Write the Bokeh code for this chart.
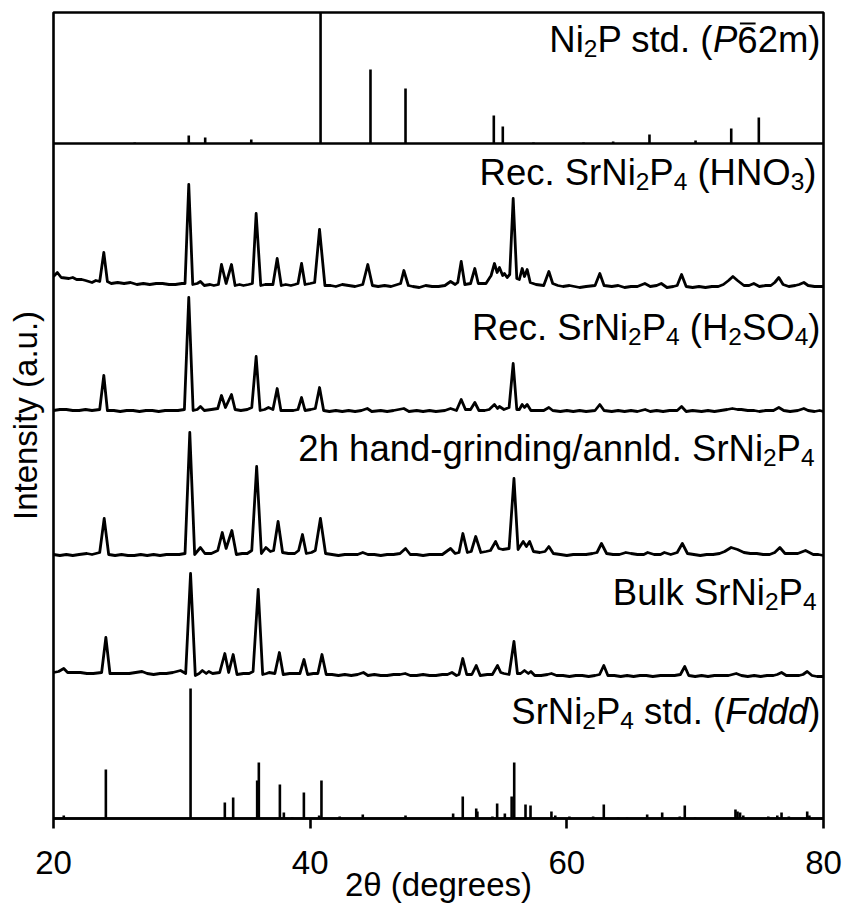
from bokeh.plotting import figure
from bokeh.models import Range1d, FixedTicker, Span, ColumnDataSource
from bokeh.embed import file_html
from bokeh.resources import INLINE
from bokeh.core.properties import value

FONT = "Liberation Sans"

# ---------------------------------------------------------------- data
# Reference stick patterns: 2theta (deg) and relative intensity (a.u.)
ni2p_pos = [26.33, 30.54, 31.82, 35.41, 40.81, 44.70, 47.43, 54.31, 55.01,
            57.40, 61.30, 63.61, 66.44, 70.03, 72.81, 74.96]
ni2p_int = [1, 8, 6, 4, 131, 74, 55, 28, 17, 1, 1, 2, 9, 3, 15, 26]

std_pos = [20.8, 24.08, 30.68, 33.35, 34.0, 35.87, 36.0, 37.64, 37.95, 38.6,
           39.51, 40.7, 40.88, 42.3, 44.1, 47.43, 51.14, 51.89, 52.94, 53.03,
           54.2, 54.57, 55.17, 55.7, 55.9, 56.78, 57.17, 58.8, 59.1, 60.2,
           62.05, 62.88, 64.0, 64.7, 66.26, 67.43, 68.8, 69.19, 70.0, 73.14,
           73.3, 73.5, 73.75, 75.7, 76.4, 76.73, 77.3, 78.73, 78.9]
std_int = [3, 49, 130, 16, 21, 38, 56, 34, 6, 1,
           26, 3, 38, 2, 4, 3, 5, 22, 10, 7,
           2, 15, 5, 22, 56, 14, 13, 7, 3, 2,
           2, 14, 1, 1, 4, 6, 2, 13, 1, 9,
           7, 6, 3, 2, 3, 6, 2, 7, 3]

# Measured patterns: 2theta (deg) and intensity (a.u.)
hno3_tt = [20.0, 20.3, 20.6, 21.2, 21.5, 21.8, 22.2, 22.5, 23.0, 23.3, 23.6, 23.92, 24.2, 24.5,
           25.0, 25.5, 26.0, 26.5, 27.0, 27.5, 28.0, 28.5, 29.0, 29.5, 30.0, 30.25, 30.54, 30.85,
           31.2, 31.45, 31.75, 32.2, 32.5, 32.85, 33.09, 33.45, 33.87, 34.15, 34.5, 34.8, 35.2,
           35.5, 35.79, 36.15, 36.5, 36.8, 37.1, 37.43, 37.75, 38.1, 38.5, 38.8, 39.05, 39.33,
           39.6, 40.0, 40.35, 40.73, 41.15, 41.6, 42.0, 42.5, 43.0, 43.5, 44.1, 44.49, 44.85,
           45.3, 45.8, 46.3, 46.8, 47.05, 47.3, 47.65, 48.0, 48.5, 49.0, 49.5, 50.0, 50.5, 50.94,
           51.3, 51.5, 51.77, 52.05, 52.5, 52.83, 53.1, 53.7, 54.1, 54.36, 54.57, 54.75, 55.0,
           55.14, 55.35, 55.55, 55.82, 56.1, 56.3, 56.52, 56.7, 56.91, 57.15, 57.6, 58.2, 58.6,
           58.9, 59.3, 59.7, 60.2, 60.6, 61.0, 61.5, 62.2, 62.57, 62.9, 63.5, 64.0, 64.5, 65.0,
           65.5, 66.08, 66.5, 67.0, 67.36, 67.8, 68.3, 68.6, 68.94, 69.3, 69.8, 70.3, 70.8, 71.3,
           71.8, 72.2, 72.6, 72.94, 73.3, 73.8, 74.2, 74.57, 75.0, 75.5, 75.9, 76.2, 76.52,
           76.85, 77.3, 77.8, 78.1, 78.47, 78.8, 79.3, 79.7, 80.0]
hno3_i = [11, 15, 10, 9, 10, 8, 8, 7, 5, 7, 6, 35, 6, 4,
          5, 4, 5, 3, 4, 3, 4, 4, 3, 3, 4, 4, 103, 3,
          4, 6, 2, 3, 2, 3, 23, 4, 23, 2, 3, 2, 3,
          4, 74, 2, 3, 3, 3, 29, 2, 3, 2, 3, 4, 24,
          3, 4, 5, 58, 2, 2, 1, 3, 2, 1, 3, 23, 2,
          1, 2, 1, 3, 4, 17, 2, 1, 0, 2, 1, 1, 2, 6,
          3, 5, 26, 3, 4, 19, 4, 4, 12, 24, 15, 20, 12,
          14, 10, 13, 89, 9, 8, 19, 11, 18, 5, 3, 2, 16,
          4, 2, 1, 2, 1, 0, 1, 2, 14, 2, 1, 2, 0, 1,
          1, 4, 1, 2, 4, 0, 1, 2, 13, 1, 0, 1, 0, 1,
          1, 3, 7, 11, 7, 2, 2, 4, 1, 2, 2, 5, 10,
          3, 1, 2, 3, 5, 2, 1, 1, 1]

h2so4_tt = [20.0, 20.5, 21.0, 21.5, 22.0, 22.5, 23.0, 23.6, 23.92, 24.2, 24.7, 25.2, 25.7, 26.2,
            26.7, 27.2, 27.7, 28.2, 28.7, 29.2, 29.7, 30.2, 30.54, 30.88, 31.2, 31.45, 31.75,
            32.3, 32.8, 33.09, 33.4, 33.87, 34.15, 34.6, 35.1, 35.45, 35.79, 36.1, 36.45, 36.75,
            37.1, 37.43, 37.72, 38.2, 38.7, 39.05, 39.33, 39.6, 40.05, 40.4, 40.73, 41.05, 41.5,
            42.0, 42.5, 43.0, 43.5, 44.0, 44.45, 44.8, 45.5, 46.0, 46.5, 47.3, 47.7, 48.3, 48.8,
            49.3, 49.8, 50.5, 50.94, 51.4, 51.77, 52.1, 52.5, 52.83, 53.15, 53.6, 53.95, 54.36,
            54.6, 54.75, 55.1, 55.5, 55.82, 56.1, 56.3, 56.52, 56.7, 56.91, 57.2, 57.7, 58.2,
            58.6, 58.9, 59.5, 60.0, 60.5, 61.0, 61.5, 62.2, 62.57, 62.9, 63.5, 64.0, 64.5, 65.0,
            65.5, 66.1, 66.5, 67.0, 67.5, 68.0, 68.6, 68.94, 69.3, 69.8, 70.5, 71.0, 71.5, 72.0,
            72.5, 72.9, 73.3, 73.6, 74.1, 74.6, 75.0, 75.5, 76.1, 76.52, 76.9, 77.4, 78.0, 78.47,
            78.8, 79.3, 79.7, 80.0]
h2so4_i = [1, 2, 2, 1, 1, 2, 1, 2, 36, 1, 1, 0, 1, 1,
           0, 1, 1, 0, 1, 1, 1, 2, 114, 1, 2, 5, 1,
           2, 3, 16, 4, 17, 2, 1, 2, 4, 55, 1, 2, 4,
           2, 23, 1, 1, 1, 2, 14, 1, 2, 3, 24, 1, 0,
           1, 0, 1, 0, 1, 3, 0, 1, 0, 1, 3, 0, 1, 0,
           1, 0, 1, 3, 1, 12, 2, 2, 9, 1, 1, 2, 7,
           3, 5, 2, 4, 48, 2, 2, 7, 4, 7, 1, 1, 1,
           4, 1, 0, 1, 0, 1, 0, 1, 7, 1, 0, 1, 0, 1,
           0, 2, 0, 1, 0, 1, 1, 5, 0, 1, 0, 1, 0, 1,
           2, 3, 2, 2, 1, 1, 0, 1, 1, 4, 1, 0, 1, 3,
           1, 0, 1, 0]

grind_tt = [20.0, 20.5, 21.0, 21.5, 22.0, 22.6, 23.0, 23.6, 23.95, 24.3, 24.8, 25.3, 25.8, 26.3,
            26.8, 27.3, 27.8, 28.3, 28.8, 29.3, 29.8, 30.25, 30.62, 31.0, 31.45, 31.8, 32.3,
            32.8, 33.15, 33.45, 33.9, 34.25, 34.7, 35.1, 35.45, 35.83, 36.2, 36.55, 36.9, 37.15,
            37.5, 37.85, 38.3, 38.8, 39.1, 39.4, 39.7, 40.1, 40.4, 40.8, 41.2, 41.7, 42.2, 42.7,
            43.2, 43.7, 44.1, 44.5, 45.0, 45.5, 46.0, 46.5, 47.0, 47.43, 47.8, 48.3, 48.8, 49.3,
            49.8, 50.3, 50.94, 51.3, 51.6, 51.9, 52.25, 52.55, 52.9, 53.3, 53.7, 54.05, 54.45,
            54.7, 55.0, 55.5, 55.88, 56.2, 56.6, 56.85, 57.1, 57.4, 57.9, 58.3, 58.6, 58.95,
            59.5, 60.0, 60.5, 61.0, 61.5, 62.0, 62.35, 62.7, 63.1, 63.6, 64.1, 64.6, 65.0, 65.5,
            66.0, 66.3, 66.8, 67.3, 67.6, 68.1, 68.6, 69.0, 69.4, 69.9, 70.4, 70.9, 71.4, 71.9,
            72.3, 72.8, 73.3, 73.8, 74.3, 74.8, 75.3, 75.8, 76.2, 76.6, 77.0, 77.5, 78.0, 78.6,
            79.2, 79.6, 80.0]
grind_i = [1, 0, 1, 0, 1, 2, 1, 3, 37, 1, 0, 1, 0, 0,
           1, 0, 1, 0, 1, 1, 1, 2, 123, 1, 8, 2, 2,
           5, 23, 7, 25, 1, 2, 2, 5, 89, 2, 8, 4, 5,
           34, 3, 2, 2, 5, 21, 2, 3, 5, 37, 2, 1, 0, 1,
           1, 1, 3, 1, 1, 0, 1, 1, 2, 7, 1, 1, 0, 1,
           1, 1, 7, 2, 3, 22, 3, 4, 19, 3, 4, 5, 14,
           7, 6, 7, 77, 6, 14, 9, 14, 4, 3, 4, 9, 2,
           1, 0, 1, 1, 1, 2, 3, 12, 2, 1, 1, 3, 2, 1,
           1, 3, 1, 1, 3, 1, 3, 12, 2, 1, 0, 1, 1, 2,
           4, 8, 6, 3, 2, 2, 1, 1, 3, 8, 2, 2, 2, 5,
           1, 1, 0]

bulk_tt = [20.0, 20.4, 20.8, 21.1, 21.6, 22.1, 22.6, 23.1, 23.75, 24.08, 24.4, 24.9, 25.4, 25.9,
           26.4, 26.9, 27.3, 27.8, 28.3, 28.8, 29.3, 29.9, 30.3, 30.68, 31.05, 31.35, 31.6, 31.9,
           32.1, 32.4, 32.95, 33.35, 33.65, 34.0, 34.3, 34.8, 35.25, 35.55, 35.95, 36.3, 36.6,
           36.8, 37.25, 37.6, 37.9, 38.4, 38.9, 39.2, 39.52, 39.8, 40.25, 40.6, 40.92, 41.25,
           41.7, 42.2, 42.7, 43.2, 43.7, 44.15, 44.5, 45.0, 45.5, 46.0, 46.5, 47.0, 47.4, 47.8,
           48.3, 48.8, 49.3, 49.8, 50.3, 50.7, 51.05, 51.4, 51.6, 51.89, 52.2, 52.6, 52.94,
           53.25, 53.8, 54.2, 54.6, 54.85, 55.1, 55.5, 55.88, 56.15, 56.4, 56.7, 57.0, 57.2,
           57.5, 58.0, 58.5, 58.8, 59.2, 59.7, 60.2, 60.7, 61.2, 61.7, 62.2, 62.55, 62.88, 63.2,
           63.7, 64.2, 64.7, 65.2, 65.7, 66.2, 66.7, 67.3, 67.8, 68.4, 68.85, 69.19, 69.5, 70.0,
           70.5, 71.0, 71.5, 72.0, 72.6, 73.2, 73.6, 74.1, 74.6, 75.1, 75.6, 76.1, 76.4, 76.73,
           77.1, 77.6, 78.1, 78.4, 78.73, 79.1, 79.5, 80.0]
bulk_i = [4, 5, 8, 4, 4, 4, 3, 3, 4, 39, 3, 3, 3, 3,
          4, 5, 3, 2, 3, 3, 4, 6, 3, 103, 1, 3, 6, 3,
          5, 3, 4, 23, 4, 22, 2, 3, 3, 5, 87, 2, 3,
          4, 3, 24, 2, 3, 3, 3, 17, 2, 3, 3, 22, 2,
          2, 1, 2, 1, 2, 4, 1, 2, 1, 1, 2, 2, 3, 1,
          1, 2, 1, 1, 2, 2, 4, 1, 2, 18, 2, 2, 11,
          1, 2, 2, 11, 4, 3, 2, 35, 3, 3, 6, 3, 5,
          1, 1, 2, 3, 1, 1, 0, 1, 1, 0, 1, 2, 11, 1,
          1, 0, 1, 0, 1, 1, 0, 1, 1, 1, 2, 10, 1, 0,
          1, 0, 1, 1, 1, 3, 1, 0, 1, 0, 1, 1, 2, 4,
          1, 1, 1, 2, 5, 1, 0, 0]

x_ticks = [20, 40, 60, 80]

# ---------------------------------------------------------------- layout
W, H = 849, 905
LEFT, RIGHT, TOP, BOTTOM = 53, 26, 12, 87
FRAME_W = W - LEFT - RIGHT
FRAME_H = H - TOP - BOTTOM
X0, X1 = 20, 80
PX_PER_DEG = FRAME_W / (X1 - X0)
LW = 2.6


def ypix(py):
    """canvas pixel row -> y data value (1 unit = 1 px)"""
    return (TOP + FRAME_H) - py


# vertical offset of each pattern's zero line
OFF_NI2P = ypix(143)
OFF_HNO3 = ypix(287)
OFF_H2SO4 = ypix(411)
OFF_GRIND = ypix(555)
OFF_BULK = ypix(676)
OFF_STD = 0

p = figure(width=W, height=H, x_range=Range1d(X0, X1), y_range=Range1d(0, FRAME_H),
           output_backend="svg", toolbar_location=None,
           min_border_left=LEFT, min_border_right=RIGHT,
           min_border_top=TOP, min_border_bottom=BOTTOM)
p.background_fill_color = "white"
p.border_fill_color = "white"
p.xgrid.visible = False
p.ygrid.visible = False
p.outline_line_color = "black"
p.outline_line_width = LW

# bottom axis: 2theta
ax = p.xaxis[0]
ax.ticker = FixedTicker(ticks=x_ticks)
ax.major_tick_out = 10
ax.major_tick_in = 0
ax.minor_tick_out = 0
ax.minor_tick_in = 0
ax.minor_tick_line_color = None
ax.major_tick_line_width = LW
ax.major_tick_line_color = "black"
ax.axis_line_width = LW
ax.axis_line_color = "black"
ax.major_label_text_font = FONT
ax.major_label_text_font_size = "33px"
ax.major_label_text_color = "black"
ax.major_label_standoff = 22
ax.axis_label = "2θ (degrees)"
ax.axis_label_text_font = FONT
ax.axis_label_text_font_size = "33px"
ax.axis_label_text_font_style = "normal"
ax.axis_label_text_color = "black"
ax.axis_label_standoff = -11

# left axis: intensity in arbitrary units, no ticks
ay = p.yaxis[0]
ay.ticker = FixedTicker(ticks=[])
ay.major_tick_out = 0
ay.major_tick_in = 0
ay.minor_tick_out = 0
ay.minor_tick_in = 0
ay.major_label_standoff = 0
ay.axis_line_color = None
ay.axis_label = "Intensity (a.u.)"
ay.axis_label_text_font = FONT
ay.axis_label_text_font_size = "33px"
ay.axis_label_text_font_style = "normal"
ay.axis_label_text_color = "black"
ay.axis_label_standoff = 10

# separator / zero line of the Ni2P reference panel
p.add_layout(Span(location=OFF_NI2P, dimension="width", line_color="black", line_width=LW))

# stick patterns
for pos, inten, off in ((ni2p_pos, ni2p_int, OFF_NI2P), (std_pos, std_int, OFF_STD)):
    p.segment(x0=pos, y0=[off] * len(pos), x1=pos, y1=[off + v for v in inten],
              line_color="black", line_width=LW)

# measured patterns
for tt, inten, off in ((hno3_tt, hno3_i, OFF_HNO3), (h2so4_tt, h2so4_i, OFF_H2SO4),
                       (grind_tt, grind_i, OFF_GRIND), (bulk_tt, bulk_i, OFF_BULK)):
    p.line(tt, [off + v for v in inten], line_color="black", line_width=2.8,
           line_join="round")

# ---------------------------------------------------------------- panel labels
ARIAL = {' ': 278, '(': 333, ')': 333, '.': 278, '/': 278, '-': 333,
         'B': 667, 'F': 611, 'H': 722, 'N': 722, 'O': 778, 'P': 667, 'R': 722, 'S': 667,
         'a': 556, 'c': 500, 'd': 556, 'e': 556, 'g': 556, 'h': 556, 'i': 222, 'k': 500,
         'l': 222, 'm': 833, 'n': 556, 'r': 333, 's': 500, 't': 278, 'u': 556}
for dgt in "0123456789":
    ARIAL[dgt] = 556

MAIN = 36.5
SUB = 24.5
SUB_DROP = 9
RAISE = 11   # the rendered baseline sits this many px below the anchor


def width(txt, size):
    return sum(ARIAL[c] for c in txt) * size / 1000.0


panel_labels = [
    (50, 820, [("Ni", "n"), ("2", "sub"), ("P std. (", "n"), ("P", "it"), ("6", "bar"), ("2m)", "n")]),
    (183, 816, [("Rec. SrNi", "n"), ("2", "sub"), ("P", "n"), ("4", "sub"), (" (HNO", "n"),
                ("3", "sub"), (")", "n")]),
    (338, 820, [("Rec. SrNi", "n"), ("2", "sub"), ("P", "n"), ("4", "sub"), (" (H", "n"),
                ("2", "sub"), ("SO", "n"), ("4", "sub"), (")", "n")]),
    (459, 814, [("2h hand-grinding/annld. SrNi", "n"), ("2", "sub"), ("P", "n"), ("4", "sub")]),
    (603, 816, [("Bulk SrNi", "n"), ("2", "sub"), ("P", "n"), ("4", "sub")]),
    (722, 820, [("SrNi", "n"), ("2", "sub"), ("P", "n"), ("4", "sub"), (" std. (", "n"),
                ("Fddd", "it"), (")", "n")]),
]

groups = {k: dict(x=[], y=[], text=[], dx=[], dy=[]) for k in ("n", "sub", "it")}
bars = dict(x0=[], x1=[], y=[])
frame_right = LEFT + FRAME_W
for base_px, right_px, segs in panel_labels:
    sizes = [SUB if kind == "sub" else MAIN for _, kind in segs]
    total = sum(width(t, s) for (t, _), s in zip(segs, sizes))
    cursor = right_px - total
    for (txt, kind), size in zip(segs, sizes):
        # svg drops leading/trailing blanks, so advance past them explicitly
        core = txt.strip(" ")
        lead = len(txt) - len(txt.lstrip(" "))
        start = cursor + width(" " * lead, size)
        g = "n" if kind == "bar" else kind
        d = groups[g]
        d["x"].append(X1)
        d["y"].append(ypix(base_px - RAISE))
        d["text"].append(core)
        d["dx"].append(start - frame_right)
        d["dy"].append(SUB_DROP if kind == "sub" else 0)
        if kind == "bar":
            bars["x0"].append(X1 + (start + 0.07 * size - frame_right) / PX_PER_DEG)
            bars["x1"].append(X1 + (start + 0.50 * size - frame_right) / PX_PER_DEG)
            bars["y"].append(ypix(base_px) + 27)
        cursor += width(txt, size)

for g, style, size in (("n", "normal", MAIN), ("sub", "normal", SUB), ("it", "italic", MAIN)):
    src = ColumnDataSource(groups[g])
    p.text(x="x", y="y", text="text", x_offset="dx", y_offset="dy", source=src,
           text_font=value(FONT), text_font_size=value(f"{size}px"), text_font_style=style,
           text_color="black", text_align="left", text_baseline="alphabetic")

p.segment(x0=bars["x0"], y0=bars["y"], x1=bars["x1"], y1=bars["y"],
          line_color="black", line_width=2)

open("out.html", "w").write(file_html(p, INLINE))
